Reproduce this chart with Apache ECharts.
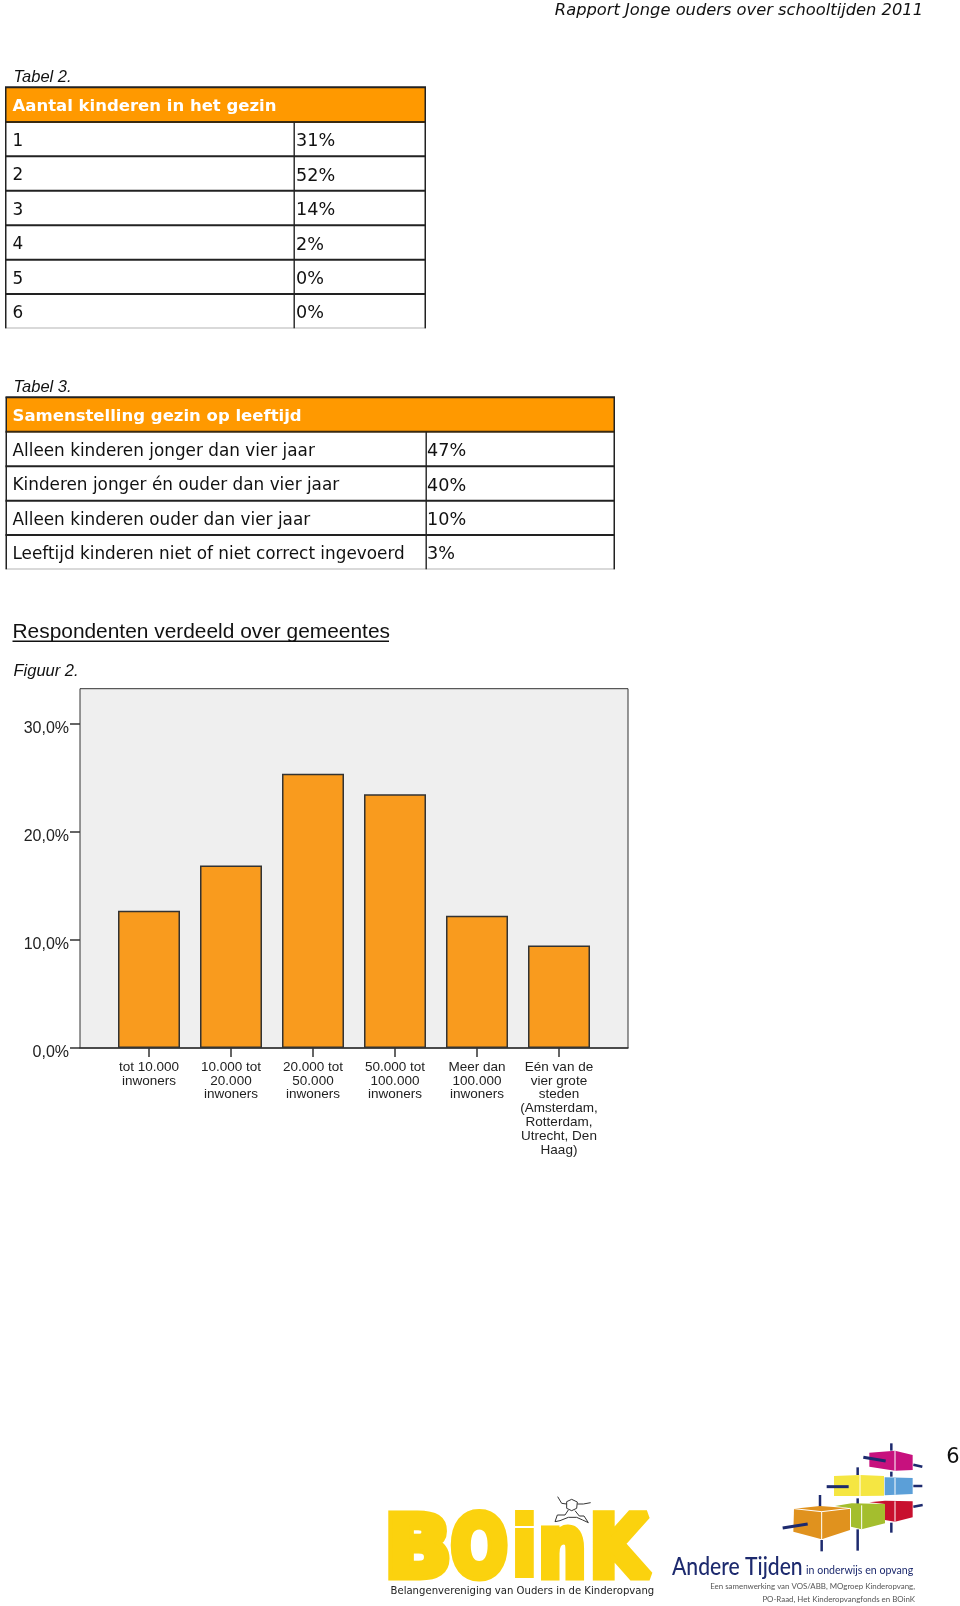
<!DOCTYPE html>
<html><head><meta charset="utf-8">
<style>html,body{margin:0;padding:0;background:#fff}#c{width:960px;height:1606px}</style>
<script src="https://cdn.jsdelivr.net/npm/echarts@6/dist/echarts.min.js"></script>
</head><body><div id="c"></div>
<script>
const pageHeader = 'Rapport Jonge ouders over schooltijden 2011';
const table2Caption = 'Tabel 2.';
const table2Title = 'Aantal kinderen in het gezin';
const table2Labels = ['1','2','3','4','5','6'];
const table2Values = ['31%','52%','14%','2%','0%','0%'];
const table3Caption = 'Tabel 3.';
const table3Title = 'Samenstelling gezin op leeftijd';
const table3Labels = ['Alleen kinderen jonger dan vier jaar','Kinderen jonger én ouder dan vier jaar','Alleen kinderen ouder dan vier jaar','Leeftijd kinderen niet of niet correct ingevoerd'];
const table3Values = ['47%','40%','10%','3%'];
const sectionTitle = 'Respondenten verdeeld over gemeentes';
const figureCaption = 'Figuur 2.';
const categories = ['tot 10.000\ninwoners','10.000 tot\n20.000\ninwoners','20.000 tot\n50.000\ninwoners','50.000 tot\n100.000\ninwoners','Meer dan\n100.000\ninwoners','Eén van de\nvier grote\nsteden\n(Amsterdam,\nRotterdam,\nUtrecht, Den\nHaag)'];
const shares = [12.7,16.9,25.4,23.5,12.25,9.5];

const ORANGE='#FF9900', DARK='#222';
const g=[];
const text=(x,y,t,o={},extra={})=>g.push(Object.assign({type:'text',x,y,silent:true,style:Object.assign({text:t,fill:'#111',fontFamily:'DejaVu Sans',fontSize:16,verticalAlign:'middle',align:'left'},o)},extra));
const rect=(x,y,w,h,fill)=>g.push({type:'rect',silent:true,shape:{x,y,width:w,height:h},style:{fill}});
function table(left,right,split,ys,title,labels,values,textX,valX){
  rect(left,ys[0],right-left,ys[1]-ys[0],ORANGE);
  text(textX,(ys[0]+ys[1])/2+2,title,{fill:'#fff',fontWeight:'bold',fontSize:16.5});
  ys.forEach((y,i)=>{ const last=i===ys.length-1; rect(left-.5,y-1,right-left+1,last?1.5:2,last?'#ccc':(i===1?'#3a2a10':DARK)); });
  rect(left-.5,ys[0],1.5,ys[ys.length-1]-ys[0],DARK);
  rect(right-1,ys[0],1.5,ys[ys.length-1]-ys[0],DARK);
  rect(split-.5,ys[1],1.4,ys[ys.length-1]-ys[1],DARK);
  labels.forEach((l,i)=>{ const cy=(ys[i+1]+ys[i+2])/2+2.5;
    text(textX,cy,l,{fontSize:16.85}); text(valX,cy,values[i],{fontSize:17.6});
  });
}
text(923,11,pageHeader,{align:'right',fontStyle:'italic',fontSize:16.3});
const cap={fontFamily:'Liberation Sans',fontStyle:'italic',fontSize:16.5};
text(13.5,77,table2Caption,cap);
table(5.5,425.5,294,[87.3,122,156.3,190.7,225.3,259.7,294,328.3],table2Title,table2Labels,table2Values,12.5,296);
text(13.5,387.5,table3Caption,cap);
table(6,614.5,426,[397.3,431.7,466.3,500.7,535,569.3],table3Title,table3Labels,table3Values,12.5,427);
text(12.5,632,sectionTitle,{fontFamily:'Liberation Sans',fontSize:20.9});
rect(12.5,640.5,376.5,1.5,'#111');
text(13.5,671.5,figureCaption,cap);
text(959.5,1458,'6',{align:'right',fontSize:21});

// BOinK logo
const Y='#FBD20E';
const letter=(t,x,sx,lw)=>text(x,1554,t,{fontFamily:'DejaVu Sans',fontWeight:'bold',fontSize:84,fill:Y,stroke:Y,lineWidth:lw||9},{scaleX:sx});
letter('B',385,1.03); letter('O',451,0.79); letter('i',510,1.0,4); letter('n',539,0.78); letter('K',590,0.88);
text(390.5,1591,'Belangenvereniging van Ouders in de Kinderopvang',{fontSize:10.1,fill:'#222'});
const frog=(pts)=>g.push({type:'polyline',silent:true,shape:{points:pts.map(p=>[380+p[0]/3,1480+p[1]/3])},style:{stroke:'#333',lineWidth:1,fill:null}});
frog([[560,65],[575,58],[592,66],[590,85],[575,92],[560,85],[560,65]]);
frog([[560,72],[545,70],[533,50]]);frog([[592,72],[610,72],[632,68]]);
frog([[565,90],[555,105],[532,105],[525,125],[540,122],[565,112]]);frog([[585,92],[598,108],[612,108],[625,128],[608,120],[590,112]]);frog([[565,112],[590,112]]);

// Andere Tijden logo
const P=p=>[770+p[0]/3,1430+p[1]/3];
const poly=(pts,fill)=>g.push({type:'polygon',silent:true,shape:{points:pts.map(P)},style:{fill}});
const bar=(a,b,c,d,w)=>{const s=P([a,b]),e=P([c,d]);g.push({type:'line',silent:true,shape:{x1:s[0],y1:s[1],x2:e[0],y2:e[1]},style:{stroke:'#1d2a6e',lineWidth:w||2.5}})};
const seam=(a,b,c,d)=>{const s=P([a,b]),e=P([c,d]);g.push({type:'line',silent:true,shape:{x1:s[0],y1:s[1],x2:e[0],y2:e[1]},style:{stroke:'#fff',lineWidth:1}})};
[[364,40,364,62],[364,125,364,140],[364,278,364,308],[263,112,263,135],[263,205,263,225],[263,298,263,362],[150,195,150,232],[155,330,155,364]].forEach(b=>bar(...b));
[[430,104,457,110],[430,168,457,168],[430,230,458,225]].forEach(b=>bar(...b));
poly([[298,68],[375,62],[428,75],[428,120],[375,122],[298,110]],'#C7117E');
poly([[192,138],[270,135],[342,138],[342,197],[270,198],[192,198]],'#F5E642');
poly([[344,142],[428,144],[428,192],[344,196]],'#5B9FD8');
poly([[298,217],[345,212],[428,214],[428,262],[375,275],[345,270],[345,222]],'#C8102E');
poly([[195,228],[245,220],[345,222],[345,280],[275,298],[243,290],[243,235]],'#A4BE2E');
poly([[72,236],[150,228],[240,235],[240,300],[155,328],[70,305]],'#E0921E');
seam(375,62,375,122);seam(270,135,270,198);seam(375,144,375,194);seam(375,214,375,275);seam(275,226,275,298);seam(155,245,155,328);seam(72,236,155,245);seam(155,245,240,235);
[[38,294,113,282],[170,170,236,170],[280,82,347,93]].forEach(b=>bar(...b,3));
text(672,1567,'Andere Tijden',{fontFamily:'Lato',fontSize:24,fontWeight:500,fill:'#1d2a6e'},{scaleX:.88});
text(806,1571,'in onderwijs en opvang',{fontFamily:'Lato',fontSize:10.6,fill:'#1d2a6e'});
text(915,1586.7,'Een samenwerking van VOS/ABB, MOgroep Kinderopvang,',{fontFamily:'Lato',fontSize:7.9,align:'right',fill:'#555'});
text(915,1599,'PO-Raad, Het Kinderopvangfonds en BOinK',{fontFamily:'Lato',fontSize:7.9,align:'right',fill:'#555'});

const plotTop=688.7, baseline=1048, plotH=baseline-plotTop;
const yMax=plotH/10.8;
const chart=echarts.init(document.getElementById('c'),null,{renderer:'canvas'});
chart.setOption({
  animation:false,
  graphic:{elements:g},
  grid:[
    {left:80,width:548,top:plotTop,height:plotH,show:true,backgroundColor:'#EFEFEF',borderColor:'#333',borderWidth:1,containLabel:false},
    {left:108,width:492,top:plotTop,height:plotH,containLabel:false}
  ],
  xAxis:[
    {gridIndex:0,type:'value',min:0,max:1,interval:1,axisLine:{show:true,lineStyle:{color:'#333',width:1.5}},axisTick:{show:false},axisLabel:{show:false},splitLine:{show:false}},
    {gridIndex:1,type:'category',data:categories,axisLine:{show:false},
      axisTick:{show:true,alignWithLabel:true,length:9,lineStyle:{color:'#333',width:1.5}},
      axisLabel:{interval:0,margin:12,color:'#222',fontFamily:'Liberation Sans',fontSize:13.5,lineHeight:13.9,verticalAlign:'top'}}
  ],
  yAxis:[
    {gridIndex:0,type:'value',min:0,max:yMax,interval:10,
      axisLine:{show:false},axisTick:{show:true,length:10,lineStyle:{color:'#333',width:1.5}},splitLine:{show:false},
      axisLabel:{margin:11,color:'#222',fontFamily:'Liberation Sans',fontSize:16,verticalAlign:'top',lineHeight:9,showMaxLabel:false,
        formatter:v=>v.toFixed(1).replace('.',',')+'%'}},
    {gridIndex:1,type:'value',min:0,max:yMax,interval:10,show:false}
  ],
  series:[{type:'bar',xAxisIndex:1,yAxisIndex:1,data:shares,barWidth:62,silent:true,
    itemStyle:{color:'#F99B1E',borderColor:'#333',borderWidth:1.5}}]
});
</script></body></html>
